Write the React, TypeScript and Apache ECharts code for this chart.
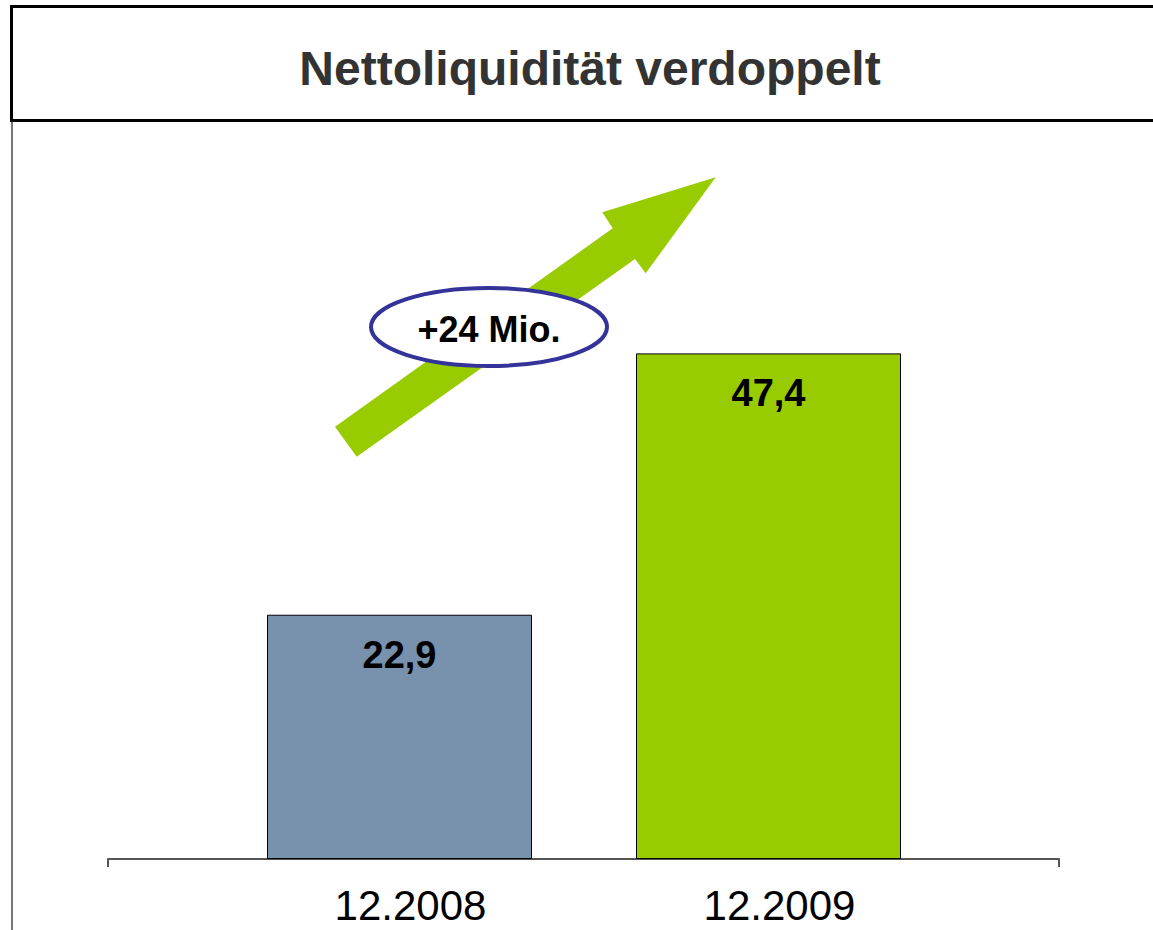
import React, { useEffect, useRef } from "react";
import * as echarts from "echarts";

const title = "Nettoliquidität verdoppelt";
const categories = ["12.2008", "12.2009"];
const values = [22.9, 47.4];
const barColors = ["#7891AD", "#99CC00"];
const changeLabel = "+24 Mio.";

const FONT = "'Liberation Sans', Arial, sans-serif";

export default function App() {
  const ref = useRef<HTMLDivElement>(null);
  useEffect(() => {
    if (!ref.current) return;
    const chart = echarts.init(ref.current, null, { renderer: "svg" });
    chart.setOption({
      animation: false,
      backgroundColor: "#ffffff",
      grid: [
        { left: 215, right: 200, top: 219, bottom: 71 },
        { left: 108, right: 94, top: 219, bottom: 71 },
      ],
      xAxis: [
        {
          type: "category",
          gridIndex: 0,
          data: categories,
          axisLine: { show: false },
          axisTick: { show: false },
          axisLabel: {
            fontSize: 42,
            color: "#000",
            fontFamily: FONT,
            margin: 25,
            padding: [0, 0, 0, 22],
          },
        },
        {
          type: "category",
          gridIndex: 1,
          data: [""],
          axisLine: { show: true, lineStyle: { color: "#555", width: 2 } },
          axisTick: { show: true, length: 8, lineStyle: { color: "#555", width: 2 } },
          axisLabel: { show: false },
        },
      ],
      yAxis: [
        { type: "value", gridIndex: 0, min: 0, max: 60, show: false, splitLine: { show: false } },
        { type: "value", gridIndex: 1, min: 0, max: 60, show: false, splitLine: { show: false } },
      ],
      series: [
        {
          type: "bar",
          xAxisIndex: 0,
          yAxisIndex: 0,
          barWidth: 265,
          data: values.map((v, i) => ({
            value: v,
            itemStyle: { color: barColors[i], borderColor: "#000", borderWidth: 1 },
          })),
          label: {
            show: true,
            position: "insideTop",
            distance: 21,
            fontSize: 38,
            fontWeight: "bold",
            color: "#000",
            fontFamily: FONT,
            formatter: (p: any) => String(p.value).replace(".", ","),
          },
        },
      ],
      graphic: [
        {
          type: "rect",
          shape: { x: 11.5, y: 6.5, width: 1200, height: 114 },
          style: { fill: "none", stroke: "#000", lineWidth: 3 },
        },
        {
          type: "line",
          shape: { x1: 12, y1: 122, x2: 12, y2: 935 },
          style: { stroke: "#777", lineWidth: 2 },
        },
        {
          type: "text",
          x: 590,
          y: 68,
          style: {
            text: title,
            fontSize: 48,
            fontWeight: "bold",
            fontFamily: FONT,
            fill: "#333333",
            textAlign: "center",
            textVerticalAlign: "middle",
          },
        },
        {
          type: "polygon",
          shape: {
            points: [
              [356.7, 456.7],
              [335, 426.7],
              [612.7, 228.3],
              [602.3, 212.3],
              [715.7, 177.3],
              [645.7, 273.3],
              [635, 259],
            ],
          },
          style: { fill: "#99CC00" },
        },
        {
          type: "ellipse",
          shape: { cx: 489, cy: 327, rx: 118, ry: 39 },
          style: { fill: "#ffffff", stroke: "#333399", lineWidth: 4 },
        },
        {
          type: "text",
          x: 489,
          y: 329,
          style: {
            text: changeLabel,
            fontSize: 36,
            fontWeight: "bold",
            fontFamily: FONT,
            fill: "#000",
            textAlign: "center",
            textVerticalAlign: "middle",
          },
        },
      ],
    });
    return () => chart.dispose();
  }, []);
  return (
    <div
      ref={ref}
      style={{ position: "fixed", left: 0, top: 0, width: 1153, height: 930 }}
    />
  );
}
